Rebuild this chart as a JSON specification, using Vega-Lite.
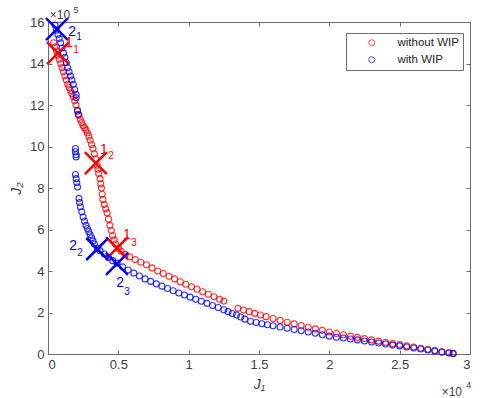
{
  "$schema": "https://vega.github.io/schema/vega-lite/v6.json",
  "width": 422,
  "height": 332,
  "autosize": "none",
  "padding": {"left": 48, "top": 22, "right": 10, "bottom": 44},
  "background": "white",
  "config": {
    "font": "Liberation Sans",
    "view": {"stroke": "#6e6e6e", "strokeWidth": 1},
    "axis": {
      "domain": false,
      "grid": false,
      "tickColor": "#6e6e6e",
      "tickSize": -4,
      "tickWidth": 1,
      "labelColor": "#404040",
      "labelFont": "Liberation Sans",
      "labelFontSize": 13,
      "titleColor": "#404040",
      "titleFont": "Liberation Sans",
      "titleFontSize": 14,
      "titleFontStyle": "italic",
      "titleFontWeight": "normal"
    },
    "legend": {
      "orient": "none",
      "legendX": 298,
      "legendY": 11,
      "strokeColor": "#6e6e6e",
      "fillColor": "white",
      "padding": 4,
      "symbolOffset": 16,
      "labelOffset": 20,
      "labelFontSize": 11.5,
      "labelFont": "Liberation Sans",
      "labelColor": "#262626",
      "rowPadding": 4,
      "symbolSize": 36,
      "symbolStrokeWidth": 1,
      "symbolType": "circle",
      "symbolOpacity": 0.7
    }
  },
  "datasets": {
    "pts": [
      {"J1": 400, "J2": 1500000, "series": "without WIP"},
      {"J1": 500, "J2": 1480000, "series": "without WIP"},
      {"J1": 600, "J2": 1460000, "series": "without WIP"},
      {"J1": 700, "J2": 1440000, "series": "without WIP"},
      {"J1": 800, "J2": 1420000, "series": "without WIP"},
      {"J1": 900, "J2": 1400000, "series": "without WIP"},
      {"J1": 1000, "J2": 1380000, "series": "without WIP"},
      {"J1": 1100, "J2": 1360000, "series": "without WIP"},
      {"J1": 1200, "J2": 1340000, "series": "without WIP"},
      {"J1": 1300, "J2": 1320000, "series": "without WIP"},
      {"J1": 1400, "J2": 1300000, "series": "without WIP"},
      {"J1": 1500, "J2": 1285000, "series": "without WIP"},
      {"J1": 1600, "J2": 1270000, "series": "without WIP"},
      {"J1": 1700, "J2": 1255000, "series": "without WIP"},
      {"J1": 1800, "J2": 1240000, "series": "without WIP"},
      {"J1": 1900, "J2": 1220000, "series": "without WIP"},
      {"J1": 2000, "J2": 1200000, "series": "without WIP"},
      {"J1": 2100, "J2": 1170000, "series": "without WIP"},
      {"J1": 2200, "J2": 1150000, "series": "without WIP"},
      {"J1": 2300, "J2": 1130000, "series": "without WIP"},
      {"J1": 2400, "J2": 1115000, "series": "without WIP"},
      {"J1": 2500, "J2": 1100000, "series": "without WIP"},
      {"J1": 2600, "J2": 1090000, "series": "without WIP"},
      {"J1": 2700, "J2": 1080000, "series": "without WIP"},
      {"J1": 2800, "J2": 1065000, "series": "without WIP"},
      {"J1": 2900, "J2": 1050000, "series": "without WIP"},
      {"J1": 3000, "J2": 1030000, "series": "without WIP"},
      {"J1": 3100, "J2": 1010000, "series": "without WIP"},
      {"J1": 3200, "J2": 990000, "series": "without WIP"},
      {"J1": 3300, "J2": 965000, "series": "without WIP"},
      {"J1": 3400, "J2": 940000, "series": "without WIP"},
      {"J1": 3500, "J2": 910000, "series": "without WIP"},
      {"J1": 3550, "J2": 890000, "series": "without WIP"},
      {"J1": 3600, "J2": 870000, "series": "without WIP"},
      {"J1": 3700, "J2": 845000, "series": "without WIP"},
      {"J1": 3750, "J2": 820000, "series": "without WIP"},
      {"J1": 3800, "J2": 800000, "series": "without WIP"},
      {"J1": 3850, "J2": 770000, "series": "without WIP"},
      {"J1": 3900, "J2": 745000, "series": "without WIP"},
      {"J1": 4000, "J2": 720000, "series": "without WIP"},
      {"J1": 4100, "J2": 700000, "series": "without WIP"},
      {"J1": 4200, "J2": 680000, "series": "without WIP"},
      {"J1": 4300, "J2": 650000, "series": "without WIP"},
      {"J1": 4400, "J2": 620000, "series": "without WIP"},
      {"J1": 4500, "J2": 595000, "series": "without WIP"},
      {"J1": 4600, "J2": 570000, "series": "without WIP"},
      {"J1": 4700, "J2": 550000, "series": "without WIP"},
      {"J1": 4800, "J2": 530000, "series": "without WIP"},
      {"J1": 5000, "J2": 510000, "series": "without WIP"},
      {"J1": 5200, "J2": 495000, "series": "without WIP"},
      {"J1": 5500, "J2": 480000, "series": "without WIP"},
      {"J1": 5800, "J2": 468000, "series": "without WIP"},
      {"J1": 6200, "J2": 455000, "series": "without WIP"},
      {"J1": 6600, "J2": 442000, "series": "without WIP"},
      {"J1": 7000, "J2": 430000, "series": "without WIP"},
      {"J1": 7400, "J2": 415000, "series": "without WIP"},
      {"J1": 7800, "J2": 400000, "series": "without WIP"},
      {"J1": 8200, "J2": 388000, "series": "without WIP"},
      {"J1": 8600, "J2": 375000, "series": "without WIP"},
      {"J1": 9000, "J2": 362000, "series": "without WIP"},
      {"J1": 9400, "J2": 348000, "series": "without WIP"},
      {"J1": 9800, "J2": 336000, "series": "without WIP"},
      {"J1": 10200, "J2": 324000, "series": "without WIP"},
      {"J1": 10600, "J2": 312000, "series": "without WIP"},
      {"J1": 11000, "J2": 300000, "series": "without WIP"},
      {"J1": 11400, "J2": 288000, "series": "without WIP"},
      {"J1": 11800, "J2": 276000, "series": "without WIP"},
      {"J1": 12200, "J2": 264000, "series": "without WIP"},
      {"J1": 12500, "J2": 255000, "series": "without WIP"},
      {"J1": 13500, "J2": 220000, "series": "without WIP"},
      {"J1": 13900, "J2": 212000, "series": "without WIP"},
      {"J1": 14300, "J2": 204000, "series": "without WIP"},
      {"J1": 14700, "J2": 196000, "series": "without WIP"},
      {"J1": 15100, "J2": 188000, "series": "without WIP"},
      {"J1": 15500, "J2": 180000, "series": "without WIP"},
      {"J1": 16000, "J2": 171000, "series": "without WIP"},
      {"J1": 16500, "J2": 162000, "series": "without WIP"},
      {"J1": 17000, "J2": 153000, "series": "without WIP"},
      {"J1": 17500, "J2": 145000, "series": "without WIP"},
      {"J1": 18000, "J2": 137000, "series": "without WIP"},
      {"J1": 18500, "J2": 129000, "series": "without WIP"},
      {"J1": 19000, "J2": 121000, "series": "without WIP"},
      {"J1": 19500, "J2": 114000, "series": "without WIP"},
      {"J1": 20000, "J2": 106000, "series": "without WIP"},
      {"J1": 20500, "J2": 99000, "series": "without WIP"},
      {"J1": 21000, "J2": 93000, "series": "without WIP"},
      {"J1": 21500, "J2": 86000, "series": "without WIP"},
      {"J1": 22000, "J2": 80000, "series": "without WIP"},
      {"J1": 22500, "J2": 74000, "series": "without WIP"},
      {"J1": 23000, "J2": 68000, "series": "without WIP"},
      {"J1": 23500, "J2": 62000, "series": "without WIP"},
      {"J1": 24000, "J2": 56000, "series": "without WIP"},
      {"J1": 24500, "J2": 50000, "series": "without WIP"},
      {"J1": 25000, "J2": 45000, "series": "without WIP"},
      {"J1": 25500, "J2": 39000, "series": "without WIP"},
      {"J1": 26000, "J2": 34000, "series": "without WIP"},
      {"J1": 26500, "J2": 28000, "series": "without WIP"},
      {"J1": 27000, "J2": 23000, "series": "without WIP"},
      {"J1": 27500, "J2": 17000, "series": "without WIP"},
      {"J1": 28000, "J2": 11000, "series": "without WIP"},
      {"J1": 28500, "J2": 6000, "series": "without WIP"},
      {"J1": 28800, "J2": 3000, "series": "without WIP"},
      {"J1": 500, "J2": 1585000, "series": "with WIP"},
      {"J1": 600, "J2": 1560000, "series": "with WIP"},
      {"J1": 700, "J2": 1540000, "series": "with WIP"},
      {"J1": 800, "J2": 1520000, "series": "with WIP"},
      {"J1": 900, "J2": 1500000, "series": "with WIP"},
      {"J1": 1000, "J2": 1475000, "series": "with WIP"},
      {"J1": 1100, "J2": 1450000, "series": "with WIP"},
      {"J1": 1200, "J2": 1430000, "series": "with WIP"},
      {"J1": 1300, "J2": 1405000, "series": "with WIP"},
      {"J1": 1400, "J2": 1380000, "series": "with WIP"},
      {"J1": 1500, "J2": 1360000, "series": "with WIP"},
      {"J1": 1600, "J2": 1340000, "series": "with WIP"},
      {"J1": 1700, "J2": 1320000, "series": "with WIP"},
      {"J1": 1800, "J2": 1300000, "series": "with WIP"},
      {"J1": 1900, "J2": 1275000, "series": "with WIP"},
      {"J1": 2000, "J2": 1250000, "series": "with WIP"},
      {"J1": 2000, "J2": 1235000, "series": "with WIP"},
      {"J1": 2100, "J2": 1175000, "series": "with WIP"},
      {"J1": 2150, "J2": 1155000, "series": "with WIP"},
      {"J1": 1950, "J2": 990000, "series": "with WIP"},
      {"J1": 1950, "J2": 975000, "series": "with WIP"},
      {"J1": 2000, "J2": 960000, "series": "with WIP"},
      {"J1": 2000, "J2": 950000, "series": "with WIP"},
      {"J1": 1950, "J2": 865000, "series": "with WIP"},
      {"J1": 2000, "J2": 845000, "series": "with WIP"},
      {"J1": 2050, "J2": 825000, "series": "with WIP"},
      {"J1": 2100, "J2": 805000, "series": "with WIP"},
      {"J1": 2200, "J2": 750000, "series": "with WIP"},
      {"J1": 2250, "J2": 730000, "series": "with WIP"},
      {"J1": 2300, "J2": 710000, "series": "with WIP"},
      {"J1": 2400, "J2": 685000, "series": "with WIP"},
      {"J1": 2500, "J2": 660000, "series": "with WIP"},
      {"J1": 2600, "J2": 640000, "series": "with WIP"},
      {"J1": 2700, "J2": 620000, "series": "with WIP"},
      {"J1": 2800, "J2": 605000, "series": "with WIP"},
      {"J1": 2900, "J2": 590000, "series": "with WIP"},
      {"J1": 3000, "J2": 575000, "series": "with WIP"},
      {"J1": 3100, "J2": 560000, "series": "with WIP"},
      {"J1": 3200, "J2": 545000, "series": "with WIP"},
      {"J1": 3300, "J2": 530000, "series": "with WIP"},
      {"J1": 3500, "J2": 510000, "series": "with WIP"},
      {"J1": 3700, "J2": 498000, "series": "with WIP"},
      {"J1": 4000, "J2": 482000, "series": "with WIP"},
      {"J1": 4300, "J2": 465000, "series": "with WIP"},
      {"J1": 4600, "J2": 450000, "series": "with WIP"},
      {"J1": 4900, "J2": 438000, "series": "with WIP"},
      {"J1": 5300, "J2": 420000, "series": "with WIP"},
      {"J1": 5700, "J2": 405000, "series": "with WIP"},
      {"J1": 6100, "J2": 390000, "series": "with WIP"},
      {"J1": 6500, "J2": 376000, "series": "with WIP"},
      {"J1": 6900, "J2": 362000, "series": "with WIP"},
      {"J1": 7300, "J2": 350000, "series": "with WIP"},
      {"J1": 7700, "J2": 338000, "series": "with WIP"},
      {"J1": 8100, "J2": 327000, "series": "with WIP"},
      {"J1": 8500, "J2": 316000, "series": "with WIP"},
      {"J1": 8900, "J2": 305000, "series": "with WIP"},
      {"J1": 9300, "J2": 294000, "series": "with WIP"},
      {"J1": 9700, "J2": 284000, "series": "with WIP"},
      {"J1": 10100, "J2": 274000, "series": "with WIP"},
      {"J1": 10500, "J2": 264000, "series": "with WIP"},
      {"J1": 10900, "J2": 254000, "series": "with WIP"},
      {"J1": 11300, "J2": 244000, "series": "with WIP"},
      {"J1": 11700, "J2": 234000, "series": "with WIP"},
      {"J1": 12100, "J2": 224000, "series": "with WIP"},
      {"J1": 12500, "J2": 213000, "series": "with WIP"},
      {"J1": 12800, "J2": 204000, "series": "with WIP"},
      {"J1": 13100, "J2": 195000, "series": "with WIP"},
      {"J1": 13400, "J2": 188000, "series": "with WIP"},
      {"J1": 13700, "J2": 178000, "series": "with WIP"},
      {"J1": 14000, "J2": 168000, "series": "with WIP"},
      {"J1": 14400, "J2": 158000, "series": "with WIP"},
      {"J1": 14800, "J2": 152000, "series": "with WIP"},
      {"J1": 15200, "J2": 146000, "series": "with WIP"},
      {"J1": 15600, "J2": 141000, "series": "with WIP"},
      {"J1": 16000, "J2": 136000, "series": "with WIP"},
      {"J1": 16500, "J2": 130000, "series": "with WIP"},
      {"J1": 17000, "J2": 124000, "series": "with WIP"},
      {"J1": 17500, "J2": 118000, "series": "with WIP"},
      {"J1": 18000, "J2": 112000, "series": "with WIP"},
      {"J1": 18500, "J2": 106000, "series": "with WIP"},
      {"J1": 19000, "J2": 100000, "series": "with WIP"},
      {"J1": 19500, "J2": 93000, "series": "with WIP"},
      {"J1": 20000, "J2": 86000, "series": "with WIP"},
      {"J1": 20500, "J2": 81000, "series": "with WIP"},
      {"J1": 21000, "J2": 77000, "series": "with WIP"},
      {"J1": 21500, "J2": 72000, "series": "with WIP"},
      {"J1": 22000, "J2": 68000, "series": "with WIP"},
      {"J1": 22500, "J2": 63000, "series": "with WIP"},
      {"J1": 23000, "J2": 58000, "series": "with WIP"},
      {"J1": 23500, "J2": 53000, "series": "with WIP"},
      {"J1": 24000, "J2": 48000, "series": "with WIP"},
      {"J1": 24500, "J2": 43000, "series": "with WIP"},
      {"J1": 25000, "J2": 39000, "series": "with WIP"},
      {"J1": 25500, "J2": 34000, "series": "with WIP"},
      {"J1": 26000, "J2": 29000, "series": "with WIP"},
      {"J1": 26500, "J2": 24000, "series": "with WIP"},
      {"J1": 27000, "J2": 19000, "series": "with WIP"},
      {"J1": 27500, "J2": 14000, "series": "with WIP"},
      {"J1": 28000, "J2": 9000, "series": "with WIP"},
      {"J1": 28500, "J2": 5000, "series": "with WIP"},
      {"J1": 28800, "J2": 2000, "series": "with WIP"}
    ],
    "xmarks": [
      {"J1": 710, "J2": 1450000, "series": "without WIP"},
      {"J1": 3400, "J2": 920000, "series": "without WIP"},
      {"J1": 4900, "J2": 510000, "series": "without WIP"},
      {"J1": 640, "J2": 1566000, "series": "with WIP"},
      {"J1": 3500, "J2": 506000, "series": "with WIP"},
      {"J1": 4900, "J2": 434000, "series": "with WIP"}
    ],
    "labels": [
      {"J1": 1490, "J2": 1499000, "text": "1", "series": "without WIP", "kind": "main"},
      {"J1": 1990, "J2": 1465000, "text": "1", "series": "without WIP", "kind": "sub"},
      {"J1": 3980, "J2": 983000, "text": "1", "series": "without WIP", "kind": "main"},
      {"J1": 4480, "J2": 954000, "text": "2", "series": "without WIP", "kind": "sub"},
      {"J1": 5610, "J2": 573000, "text": "1", "series": "without WIP", "kind": "main"},
      {"J1": 6110, "J2": 535000, "text": "3", "series": "without WIP", "kind": "sub"},
      {"J1": 1710, "J2": 1552000, "text": "2", "series": "with WIP", "kind": "main"},
      {"J1": 2200, "J2": 1528000, "text": "1", "series": "with WIP", "kind": "sub"},
      {"J1": 1780, "J2": 520000, "text": "2", "series": "with WIP", "kind": "main"},
      {"J1": 2270, "J2": 487000, "text": "2", "series": "with WIP", "kind": "sub"},
      {"J1": 5120, "J2": 342000, "text": "2", "series": "with WIP", "kind": "main"},
      {"J1": 5610, "J2": 299000, "text": "3", "series": "with WIP", "kind": "sub"}
    ],
    "exps": [
      {"J1": 850, "J2": 1634000, "text": "×10", "kind": "main"},
      {"J1": 1990, "J2": 1658000, "text": "5", "kind": "sub"},
      {"J1": 28710, "J2": -183000, "text": "×10", "kind": "main"},
      {"J1": 29920, "J2": -149000, "text": "4", "kind": "sub"}
    ]
  },
  "layer": [
    {
      "data": {"name": "pts"},
      "mark": {"type": "point", "shape": "circle", "filled": false, "size": 36, "strokeWidth": 1.1, "opacity": 0.8},
      "encoding": {
        "x": {
          "field": "J1", "type": "quantitative",
          "scale": {"domain": [0, 30000], "nice": false, "zero": false},
          "axis": {"orient": "bottom", "values": [0, 5000, 10000, 15000, 20000, 25000, 30000], "labelExpr": "datum.value/10000", "labelPadding": 8, "title": "J₁", "titlePadding": 6}
        },
        "y": {
          "field": "J2", "type": "quantitative",
          "scale": {"domain": [0, 1600000], "nice": false, "zero": false},
          "axis": {"orient": "left", "values": [0, 200000, 400000, 600000, 800000, 1000000, 1200000, 1400000, 1600000], "labelExpr": "datum.value/100000", "labelPadding": 8, "title": "J₂", "titlePadding": 6}
        },
        "color": {
          "field": "series", "type": "nominal",
          "scale": {"domain": ["without WIP", "with WIP"], "range": ["#ff0000", "#0000ff"]},
          "legend": {"title": null}
        }
      }
    },
    {
      "data": {"name": "xmarks"},
      "mark": {"type": "point", "shape": "M-1,-1L1,1M-1,1L1,-1", "filled": false, "size": 484, "strokeWidth": 2.5, "opacity": 1},
      "encoding": {
        "x": {"field": "J1", "type": "quantitative", "axis": {"orient": "top", "values": [0, 5000, 10000, 15000, 20000, 25000, 30000], "labels": false, "title": null}},
        "y": {"field": "J2", "type": "quantitative", "axis": {"orient": "right", "values": [0, 200000, 400000, 600000, 800000, 1000000, 1200000, 1400000, 1600000], "labels": false, "title": null}},
        "color": {"condition": {"test": "datum.series === 'without WIP'", "value": "#ff0000"}, "value": "#0000ff"}
      }
    },
    {
      "data": {"name": "labels"},
      "transform": [{"filter": "datum.kind === 'main'"}],
      "mark": {"type": "text", "align": "center", "baseline": "middle", "fontSize": 14, "font": "Liberation Sans"},
      "encoding": {
        "x": {"field": "J1", "type": "quantitative", "axis": null},
        "y": {"field": "J2", "type": "quantitative", "axis": null},
        "text": {"field": "text"},
        "color": {"condition": {"test": "datum.series === 'without WIP'", "value": "#ff0000"}, "value": "#0000ff"}
      }
    },
    {
      "data": {"name": "labels"},
      "transform": [{"filter": "datum.kind === 'sub'"}],
      "mark": {"type": "text", "align": "center", "baseline": "middle", "fontSize": 10, "font": "Liberation Sans"},
      "encoding": {
        "x": {"field": "J1", "type": "quantitative", "axis": null},
        "y": {"field": "J2", "type": "quantitative", "axis": null},
        "text": {"field": "text"},
        "color": {"condition": {"test": "datum.series === 'without WIP'", "value": "#ff0000"}, "value": "#0000ff"}
      }
    },
    {
      "data": {"name": "exps"},
      "transform": [{"filter": "datum.kind === 'main'"}],
      "mark": {"type": "text", "align": "center", "baseline": "middle", "fontSize": 12, "font": "Liberation Sans", "color": "#404040"},
      "encoding": {
        "x": {"field": "J1", "type": "quantitative", "axis": null},
        "y": {"field": "J2", "type": "quantitative", "axis": null},
        "text": {"field": "text"}
      }
    },
    {
      "data": {"name": "exps"},
      "transform": [{"filter": "datum.kind === 'sub'"}],
      "mark": {"type": "text", "align": "center", "baseline": "middle", "fontSize": 9, "font": "Liberation Sans", "color": "#404040"},
      "encoding": {
        "x": {"field": "J1", "type": "quantitative", "axis": null},
        "y": {"field": "J2", "type": "quantitative", "axis": null},
        "text": {"field": "text"}
      }
    }
  ],
  "resolve": {"axis": {"x": "independent", "y": "independent"}}
}
